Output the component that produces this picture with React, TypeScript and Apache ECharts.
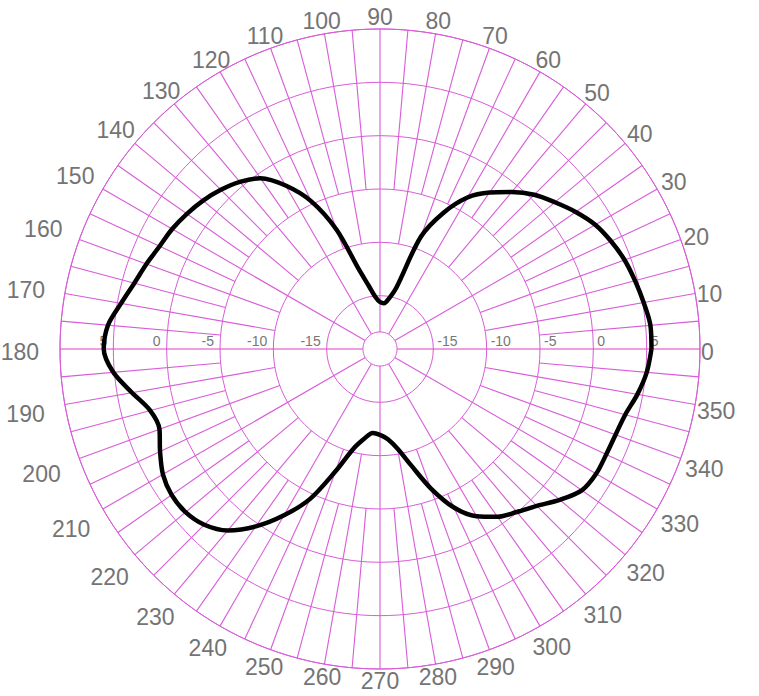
import React, { useEffect, useRef } from 'react';
import * as echarts from 'echarts';

// Radiation pattern (dB), angle in degrees (counter-clockwise from 0 = right)
const patternAngles = [
  0, 5, 10, 15, 20, 25, 30, 35, 40, 45, 50, 55, 60, 65, 70, 75, 80, 85,
  90, 95, 100, 105, 110, 115, 120, 125, 130, 135, 140, 145, 150, 155, 160, 165, 170, 175,
  180, 185, 190, 195, 200, 205, 210, 215, 220, 225, 230, 235, 240, 245, 250, 255, 260, 265,
  270, 275, 280, 285, 290, 295, 300, 305, 310, 315, 320, 325, 330, 335, 340, 345, 350, 355, 360,
];
const patternGain = [
  5.45, 5.45, 5.1, 4.75, 4.4, 3.9, 3.3, 2.4, 1.4, 0.45, -0.8, -2.1, -3.6, -5.9, -8.8, -14.0, -15.2, -15.7,
  -15.6, -15.1, -14.0, -12.2, -8.1, -4.7, -2.3, -0.45, 0.45, 1.1, 1.65, 2.1, 2.5, 2.8, 3.3, 3.85, 4.65, 5.6,
  5.9, 5.1, 3.6, 2.3, 2.0, 2.75, 3.5, 3.85, 3.8, 3.3, 2.2, 0.3, -2.0, -4.5, -7.8, -10.3, -11.45, -12.1,
  -11.95, -11.5, -10.5, -8.7, -6.1, -3.6, -1.9, -0.8, -0.05, 0.8, 2.0, 3.1, 3.4, 3.4, 3.5, 3.8, 4.5, 5.1, 5.45,
];

// Radial scale tick labels (dB), written on both sides of the 0-180 axis
const radiusTickLabels = [-15, -10, -5, 0, 5];
// Angular tick labels (degrees)
const angleTickLabels = [
  0, 10, 20, 30, 40, 50, 60, 70, 80, 90, 100, 110, 120, 130, 140, 150, 160, 170,
  180, 190, 200, 210, 220, 230, 240, 250, 260, 270, 280, 290, 300, 310, 320, 330, 340, 350,
];
// Small centre hole of the grid (dB)
const innerHole = -18.4;
// Spokes every 5 degrees
const spokeAngles: number[] = [];
for (let a = 0; a < 360; a += 5) spokeAngles.push(a);

const GRID = '#d85cd8';
const AXIS0 = '#e040c0';
const LABEL_FONT = 23;

export default function App() {
  const ref = useRef<HTMLDivElement>(null);
  useEffect(() => {
    const chart = echarts.init(ref.current!, null, { renderer: 'svg' });
    const lineData = patternAngles.map((a, i) => [patternGain[i], a]);
    const spokeData = spokeAngles.map((a) => [
      a % 30 === 0 ? innerHole : a % 10 === 0 ? -10 : -5,
      a,
      10,
    ]);
    const labelData: any[] = [];
    radiusTickLabels.forEach((v) => {
      labelData.push([v, 0]);
      labelData.push([v, 180]);
    });
    const angleLabelData = angleTickLabels.map((a) => [10, a]);

    chart.setOption({
      animation: false,
      polar: { center: [380, 349], radius: 320 },
      angleAxis: {
        type: 'value',
        min: 0,
        max: 360,
        interval: 10,
        startAngle: 0,
        clockwise: false,
        axisLine: { show: true, lineStyle: { color: GRID, width: 1 } },
        axisTick: { show: false },
        splitLine: { show: false },
        axisLabel: { show: false },
      },
      radiusAxis: {
        type: 'value',
        min: -20,
        max: 10,
        interval: 5,
        axisLine: { show: false },
        axisTick: { show: false },
        axisLabel: { show: false },
        splitLine: { show: true, lineStyle: { color: GRID, width: 1 } },
      },
      series: [
        {
          type: 'custom',
          coordinateSystem: 'polar',
          silent: true,
          z: 1,
          emphasis: { disabled: true },
          encode: { radius: 0, angle: 1 },
          data: spokeData,
          renderItem: (params: any, api: any) => {
            const r0 = api.value(0);
            const a = api.value(1);
            const r1 = api.value(2);
            const p0 = api.coord([r0, a]);
            const p1 = api.coord([r1, a]);
            return {
              type: 'line',
              shape: { x1: p0[0], y1: p0[1], x2: p1[0], y2: p1[1] },
              style: { stroke: a % 180 === 0 ? AXIS0 : GRID, lineWidth: 1.1, fill: 'none' },
            };
          },
        },
        {
          type: 'custom',
          coordinateSystem: 'polar',
          silent: true,
          z: 1,
          encode: { radius: 0, angle: 1 },
          data: [[innerHole, 0]],
          renderItem: (params: any, api: any) => {
            const c = api.coord([-20, 0]);
            const p = api.coord([api.value(0), 0]);
            return {
              type: 'circle',
              shape: { cx: c[0], cy: c[1], r: Math.abs(p[0] - c[0]) },
              style: { fill: '#ffffff', stroke: GRID, lineWidth: 1 },
            };
          },
        },
        {
          type: 'custom',
          coordinateSystem: 'polar',
          silent: true,
          z: 2,
          encode: { radius: 0, angle: 1 },
          data: labelData,
          renderItem: (params: any, api: any) => {
            const v = api.value(0);
            const a = api.value(1);
            const p = api.coord([v, a]);
            const right = a === 0;
            return {
              type: 'text',
              x: p[0] + (right ? 4 : -6),
              y: p[1] - 1,
              style: {
                text: String(v),
                fill: '#777777',
                fontSize: 14,
                fontFamily: 'Liberation Sans',
                align: right ? 'left' : 'right',
                verticalAlign: 'bottom',
              },
            };
          },
        },
        {
          // angle labels around the outer ring
          type: 'custom',
          coordinateSystem: 'polar',
          silent: true,
          z: 2,
          encode: { radius: 0, angle: 1 },
          data: angleLabelData,
          renderItem: (params: any, api: any) => {
            const a = api.value(1);
            const c = api.coord([-20, 0]);
            const p = api.coord([api.value(0), a]);
            const dx = p[0] - c[0];
            const dy = p[1] - c[1];
            const len = Math.sqrt(dx * dx + dy * dy);
            const ux = dx / len;
            const uy = dy / len;
            const txt = String(a);
            const w = txt.length * LABEL_FONT * 0.556;
            const h = 17;
            const ex = Math.abs(ux) > 1e-6 ? w / 2 / Math.abs(ux) : Infinity;
            const ey = Math.abs(uy) > 1e-6 ? h / 2 / Math.abs(uy) : Infinity;
            const half = Math.min(ex, ey);
            const s2 = Math.sin((2 * a * Math.PI) / 180);
            const gap =
              7 -
              6 * Math.pow(Math.max(0, ux), 6) +
              14 * Math.pow(Math.max(0, -ux), 4) +
              13 * Math.max(0, uy) * s2 * s2 -
              4 * Math.pow(Math.max(0, uy), 6);
            const d = gap + half;
            return {
              type: 'text',
              x: p[0] + ux * d,
              y: p[1] + uy * d + 3 * (1 - Math.max(0, uy)),
              style: {
                text: txt,
                fill: '#747474',
                fontSize: LABEL_FONT,
                fontFamily: 'Liberation Sans',
                align: 'center',
                verticalAlign: 'middle',
              },
            };
          },
        },
        {
          type: 'line',
          coordinateSystem: 'polar',
          data: lineData,
          symbol: 'none',
          smooth: 0.3,
          z: 5,
          lineStyle: { color: '#000000', width: 4.5 },
        },
      ],
    });
    return () => chart.dispose();
  }, []);
  return (
    <div
      ref={ref}
      style={{ position: 'fixed', left: 0, top: 0, width: 759, height: 696, background: '#ffffff' }}
    />
  );
}
